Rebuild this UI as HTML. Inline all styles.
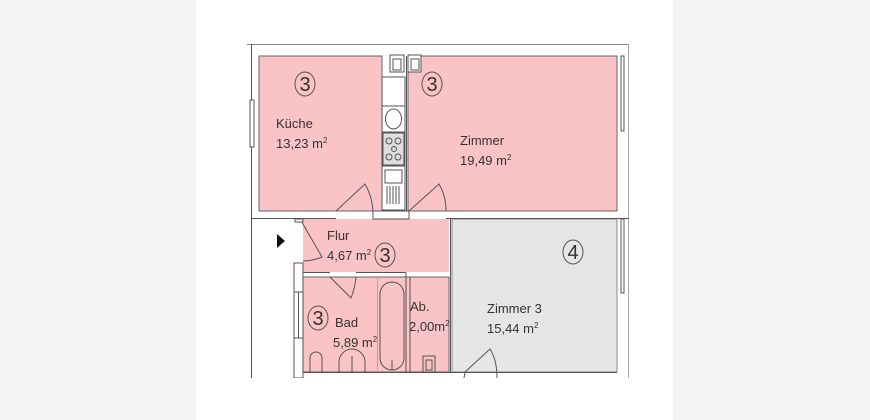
<!DOCTYPE html>
<html><head><meta charset="utf-8"><style>
html,body{margin:0;padding:0;background:#f3f3f3;}
svg{display:block}
text{font-family:"Liberation Sans",sans-serif;fill:#333;}
</style></head><body>
<svg width="870" height="420" viewBox="0 0 870 420" xmlns="http://www.w3.org/2000/svg">
<rect x="0" y="0" width="870" height="420" fill="#f3f3f3"/>
<rect x="196" y="0" width="477" height="420" fill="#fff"/>
<g stroke="#555" stroke-width="1" fill="none">
<line x1="247" y1="44.5" x2="629" y2="44.5" stroke="#888"/>
<line x1="251.5" y1="44" x2="251.5" y2="378"/>
<line x1="628.5" y1="44" x2="628.5" y2="378" stroke="#aaa"/>
</g>
<rect x="259" y="56" width="123" height="155" fill="#fac3c5" stroke="#666"/>
<rect x="408" y="56" width="209" height="155" fill="#fac3c5" stroke="#666"/>
<rect x="303" y="219" width="146" height="53" fill="#fac3c5"/>
<rect x="303" y="277" width="146" height="95" fill="#fac3c5" stroke="#666"/>
<rect x="452" y="219" width="165" height="153" fill="#e6e6e6" stroke="#888"/>
<g stroke="#555" stroke-width="1" fill="none">
<rect x="382" y="77" width="23" height="133" fill="#fff"/>
<line x1="382" y1="106" x2="405" y2="106"/>
<line x1="382" y1="132" x2="405" y2="132"/>
<line x1="382" y1="166" x2="405" y2="166"/>
<ellipse cx="393.5" cy="119" rx="8" ry="10"/>
<rect x="383" y="133" width="21" height="32" fill="#ddd"/>
<circle cx="389" cy="141" r="3"/><circle cx="398" cy="141" r="3"/><circle cx="389" cy="157" r="3"/><circle cx="398" cy="157" r="3"/><circle cx="394" cy="149" r="2.5"/>
<rect x="385" y="170" width="17" height="13"/>
<path d="M387 186v18M390 186v18M393 186v18M396 186v18M399 186v18"/>
<line x1="406.5" y1="56" x2="406.5" y2="211"/>
<rect x="390" y="55" width="14" height="17" fill="#fff"/><rect x="393" y="59" width="8" height="11"/>
<rect x="408" y="55" width="13" height="17" fill="#fff"/><rect x="411" y="59" width="8" height="11"/>
<line x1="251" y1="218.5" x2="336" y2="218.5"/>
<rect x="373" y="211" width="36" height="8" fill="#fff"/>
<line x1="446" y1="218.5" x2="629" y2="218.5"/>
<line x1="450.5" y1="219" x2="450.5" y2="372"/>
<path d="M336 211 L365 184 Q372 196 373 211" />
<path d="M409 211 L439 184 Q446 196 446 211" />
<path d="M300 219 L322 257 Q312 261 303 261" />
<path d="M330 277 L351 298 Q355 288 356 277"/>
<path d="M464 378 L465 372 L490 349 Q497 360 497 378"/>
<rect x="295" y="219" width="8" height="3" fill="#fff"/>
<rect x="294" y="263" width="9" height="115" fill="#fff"/>
<rect x="294" y="292" width="9" height="46" fill="#fff"/>
<line x1="298.5" y1="292" x2="298.5" y2="338"/>
<line x1="303" y1="272.5" x2="330" y2="272.5"/>
<line x1="356" y1="272.5" x2="406" y2="272.5"/>
<line x1="406" y1="272.5" x2="406" y2="372"/>
<line x1="410" y1="277" x2="410" y2="372"/>
<line x1="377.5" y1="277" x2="377.5" y2="372" stroke="#c99"/>
<line x1="303" y1="372.5" x2="617" y2="372.5"/>
<rect x="380" y="282" width="24" height="88" rx="12" fill="#fac3c5"/>
<line x1="392" y1="360" x2="392" y2="370"/>
<path d="M310 372 v-14 a6 6 0 0 1 12 0 v14"/>
<path d="M339 372 v-10 a13 13 0 0 1 26 0 v10"/>
<line x1="352" y1="356" x2="352" y2="372"/>
<rect x="423" y="356" width="12" height="16"/><rect x="426" y="360" width="6" height="10"/>
<rect x="250" y="100" width="4" height="47" fill="#fff"/>
<rect x="621" y="56" width="3" height="75" fill="#fff"/>
<rect x="621" y="219" width="3" height="74" fill="#fff"/>
<ellipse cx="305" cy="84" rx="10" ry="12"/>
<ellipse cx="432" cy="84" rx="10" ry="12"/>
<ellipse cx="385" cy="255" rx="10" ry="12"/>
<ellipse cx="318" cy="318" rx="10" ry="12"/>
<ellipse cx="573" cy="252" rx="10" ry="12"/>
</g>
<polygon points="277,234 285,241 277,248" fill="#111"/>
<g font-size="20" text-anchor="middle">
<text x="305" y="91">3</text><text x="432" y="91">3</text><text x="385" y="262">3</text><text x="318" y="325">3</text><text x="573" y="259">4</text>
</g>
<g font-size="13">
<text x="276" y="128">Küche</text>
<text x="276" y="148">13,23 m<tspan font-size="8" dy="-5">2</tspan></text>
<text x="460" y="145">Zimmer</text>
<text x="460" y="165">19,49 m<tspan font-size="8" dy="-5">2</tspan></text>
<text x="327" y="240">Flur</text>
<text x="327" y="260">4,67 m<tspan font-size="8" dy="-5">2</tspan></text>
<text x="335" y="327">Bad</text>
<text x="333" y="347">5,89 m<tspan font-size="8" dy="-5">2</tspan></text>
<text x="410" y="311">Ab.</text>
<text x="409" y="331">2,00m<tspan font-size="8" dy="-5">2</tspan></text>
<text x="487" y="313">Zimmer 3</text>
<text x="487" y="333">15,44 m<tspan font-size="8" dy="-5">2</tspan></text>
</g>
<rect x="196" y="378" width="477" height="42" fill="#fff"/>
</svg>
</body></html>
